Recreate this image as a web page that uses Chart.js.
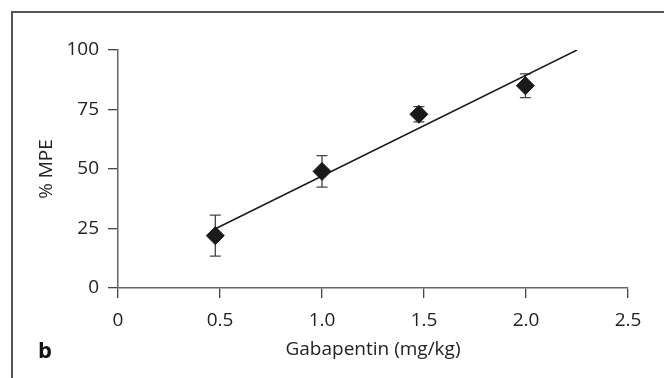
<!DOCTYPE html>
<html>
<head>
<meta charset="utf-8">
<script src="https://cdn.jsdelivr.net/npm/chart.js@4"></script>
<style>
  body { margin: 0; background: #fff; }
  #wrap { position: relative; width: 664px; height: 378px; overflow: hidden; }
  #frame { position: absolute; left: 11px; top: 11px; right: -10px; bottom: -10px;
           border-top: 2px solid #555; border-left: 2px solid #555; }
  #panel { position: absolute; left: 38px; top: 334px; font: bold 22px "Open Sans", sans-serif; color: #111; }
  canvas { position: absolute; left: 0; top: 0; }
</style>
</head>
<body>
<div id="wrap">
  <div id="frame"></div>
  <canvas id="chart" width="664" height="378"></canvas>
  <div id="panel">b</div>
</div>
<script>
// dose (mg/kg) vs %MPE, mean and SEM
const doses = [0.477, 1.0, 1.475, 1.997];
const mpe = [22, 49, 73, 85];
const sem = [8.6, 6.6, 3.2, 5.0];

// regression line end points
const fitX = [0.48, 2.25];
const fitY = [25, 100];

const xTicks = [0, 0.5, 1.0, 1.5, 2.0, 2.5];
const yTicks = [0, 25, 50, 75, 100];

const FONT = '"Open Sans", sans-serif';
const SIZE = 19;

// draws the error bars under the diamonds
const errorBars = {
    id: 'errorBars',
    beforeDatasetsDraw(chart) {
        const ctx = chart.ctx;
        const xs = chart.scales.x, ys = chart.scales.y;
        ctx.save();
        ctx.strokeStyle = '#444';
        ctx.lineWidth = 1.3;
        doses.forEach((d, i) => {
            const px = xs.getPixelForValue(d);
            const top = ys.getPixelForValue(mpe[i] + sem[i]);
            const bot = ys.getPixelForValue(mpe[i] - sem[i]);
            ctx.beginPath();
            ctx.moveTo(px, top); ctx.lineTo(px, bot);
            ctx.moveTo(px - 5.5, top); ctx.lineTo(px + 5.5, top);
            ctx.moveTo(px - 5.5, bot); ctx.lineTo(px + 5.5, bot);
            ctx.stroke();
        });
        ctx.restore();
    }
};

new Chart(document.getElementById('chart'), {
    type: 'scatter',
    data: {
        datasets: [
            {
                type: 'line',
                data: fitX.map((x, i) => ({ x: x, y: fitY[i] })),
                borderColor: '#1a1a1a',
                borderWidth: 1.5,
                pointRadius: 0,
                fill: false
            },
            {
                data: doses.map((d, i) => ({ x: d, y: mpe[i] })),
                pointStyle: 'rectRot',
                pointRadius: 9,
                backgroundColor: '#1a1a1a',
                borderColor: '#1a1a1a',
                borderWidth: 1
            }
        ]
    },
    options: {
        responsive: false,
        animation: false,
        layout: { padding: { left: 0, top: 50, right: 36, bottom: 0 } },
        plugins: { legend: { display: false }, tooltip: { enabled: false } },
        scales: {
            x: {
                type: 'linear',
                min: 0, max: 2.5,
                afterFit(scale) { scale.height = 90; },
                afterBuildTicks(scale) { scale.ticks = xTicks.map(v => ({ value: v })); },
                ticks: {
                    padding: 11,
                    color: '#222',
                    font: { family: FONT, size: SIZE },
                    callback: v => (v === 0 ? '0' : v.toFixed(1))
                },
                grid: { drawOnChartArea: false, tickLength: 10, color: '#444', lineWidth: 1.3 },
                border: { color: '#666', width: 1.5 },
                title: {
                    display: true,
                    text: 'Gabapentin (mg/kg)',
                    color: '#222',
                    font: { family: FONT, size: SIZE },
                    padding: { top: 0, bottom: 17 }
                }
            },
            y: {
                min: 0, max: 100,
                afterFit(scale) { scale.width = 118; },
                afterBuildTicks(scale) { scale.ticks = yTicks.map(v => ({ value: v })); },
                ticks: {
                    padding: 9,
                    color: '#222',
                    font: { family: FONT, size: SIZE }
                },
                grid: { drawOnChartArea: false, tickLength: 10, color: '#444', lineWidth: 1.3 },
                border: { color: '#666', width: 1.5 },
                title: {
                    display: true,
                    text: '% MPE',
                    color: '#222',
                    font: { family: FONT, size: SIZE },
                    padding: { top: 35, bottom: 0 }
                }
            }
        }
    },
    plugins: [errorBars]
});
</script>
</body>
</html>
